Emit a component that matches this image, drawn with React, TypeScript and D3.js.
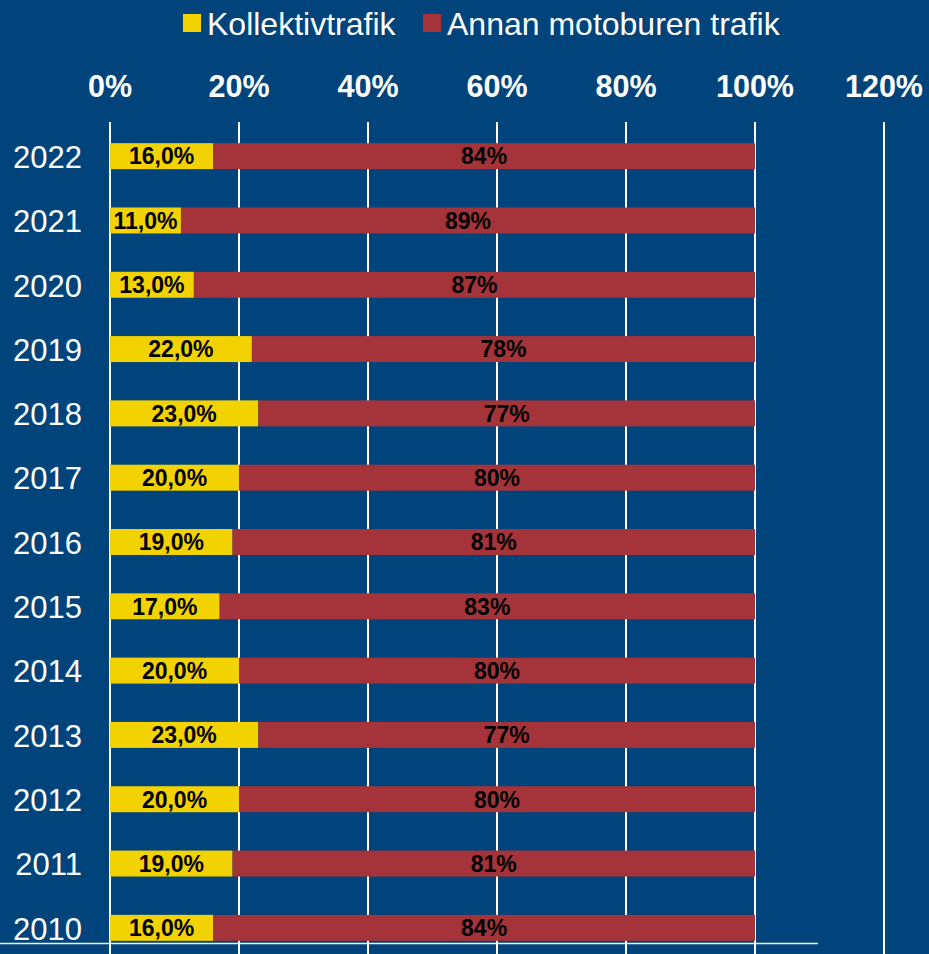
import { useEffect, useRef } from "react";
import * as d3 from "d3";

const years = ["2022", "2021", "2020", "2019", "2018", "2017", "2016", "2015", "2014", "2013", "2012", "2011", "2010"];
const kollektiv = [16, 11, 13, 22, 23, 20, 19, 17, 20, 23, 20, 19, 16];
const annan = [84, 89, 87, 78, 77, 80, 81, 83, 80, 77, 80, 81, 84];
const xTicks = [0, 20, 40, 60, 80, 100, 120];
const seriesNames = ["Kollektivtrafik", "Annan motoburen trafik"];

const BG = "#00447B";
const YELLOW = "#F2D200";
const RED = "#A5343A";
const FONT = "'Liberation Sans', Arial, sans-serif";

const App = () => {
    const svgRef = useRef<SVGSVGElement>(null);

    useEffect(() => {
        document.body.style.margin = "0";
        const width = 929;
        const height = 954;

        d3.select(svgRef.current).selectAll("*").remove();

        const svg = d3
            .select(svgRef.current)
            .attr("width", width)
            .attr("height", height)
            .style("display", "block")
            .style("font-family", FONT);

        svg.append("rect").attr("width", width).attr("height", height).attr("fill", BG);

        // Scales
        const x = d3.scaleLinear().domain([0, 120]).range([110, 884]);
        const y = d3
            .scaleBand()
            .domain(years)
            .range([124, 960])
            .paddingInner(0.596)
            .paddingOuter(0.298);

        // Gridlines
        svg.append("g")
            .selectAll("line")
            .data(xTicks)
            .join("line")
            .attr("x1", (d) => x(d))
            .attr("x2", (d) => x(d))
            .attr("y1", 122)
            .attr("y2", height)
            .attr("stroke", "#ffffff")
            .attr("stroke-width", 2);

        // Top tick labels
        svg.append("g")
            .selectAll("text")
            .data(xTicks)
            .join("text")
            .attr("x", (d) => x(d))
            .attr("y", 97)
            .attr("text-anchor", "middle")
            .attr("fill", "#ffffff")
            .attr("font-size", 30.5)
            .attr("font-weight", "bold")
            .text((d) => `${d}%`);

        // Bars
        const rows = years.map((yr, i) => ({ yr, k: kollektiv[i], a: annan[i] }));
        const bh = y.bandwidth();

        svg.append("g")
            .selectAll("rect")
            .data(rows)
            .join("rect")
            .attr("x", x(0))
            .attr("y", (d) => y(d.yr)!)
            .attr("width", (d) => x(d.k) - x(0))
            .attr("height", bh)
            .attr("fill", YELLOW);

        svg.append("g")
            .selectAll("rect")
            .data(rows)
            .join("rect")
            .attr("x", (d) => x(d.k))
            .attr("y", (d) => y(d.yr)!)
            .attr("width", (d) => x(d.k + d.a) - x(d.k))
            .attr("height", bh)
            .attr("fill", RED);

        // Data labels
        svg.append("g")
            .selectAll("text")
            .data(rows)
            .join("text")
            .attr("x", (d) => (x(0) + x(d.k)) / 2)
            .attr("y", (d) => y(d.yr)! + bh / 2)
            .attr("dy", "0.36em")
            .attr("text-anchor", "middle")
            .attr("font-size", 23)
            .attr("font-weight", "bold")
            .attr("fill", "#000")
            .text((d) => `${d.k},0%`);

        svg.append("g")
            .selectAll("text")
            .data(rows)
            .join("text")
            .attr("x", (d) => (x(d.k) + x(d.k + d.a)) / 2)
            .attr("y", (d) => y(d.yr)! + bh / 2)
            .attr("dy", "0.36em")
            .attr("text-anchor", "middle")
            .attr("font-size", 23)
            .attr("font-weight", "bold")
            .attr("fill", "#000")
            .text((d) => `${d.a}%`);

        // Year labels
        svg.append("g")
            .selectAll("text")
            .data(years)
            .join("text")
            .attr("x", 82)
            .attr("y", (d) => y(d)! + bh / 2)
            .attr("dy", "0.38em")
            .attr("text-anchor", "end")
            .attr("font-size", 31)
            .attr("fill", "#ffffff")
            .text((d) => d);

        // Bottom axis line
        svg.append("line")
            .attr("x1", 0)
            .attr("x2", 818)
            .attr("y1", 943.5)
            .attr("y2", 943.5)
            .attr("stroke", "#f0f0f0")
            .attr("stroke-width", 1.5);

        // Legend
        const legendX = [183, 423];
        const colors = [YELLOW, RED];
        const lg = svg.append("g");
        seriesNames.forEach((name, i) => {
            lg.append("rect")
                .attr("x", legendX[i])
                .attr("y", 14)
                .attr("width", 18)
                .attr("height", 18)
                .attr("fill", colors[i]);
            lg.append("text")
                .attr("x", legendX[i] + 24)
                .attr("y", 35)
                .attr("font-size", 32)
                .attr("fill", "#ffffff")
                .text(name);
        });
    }, []);

    return <svg ref={svgRef}></svg>;
};

export default App;
